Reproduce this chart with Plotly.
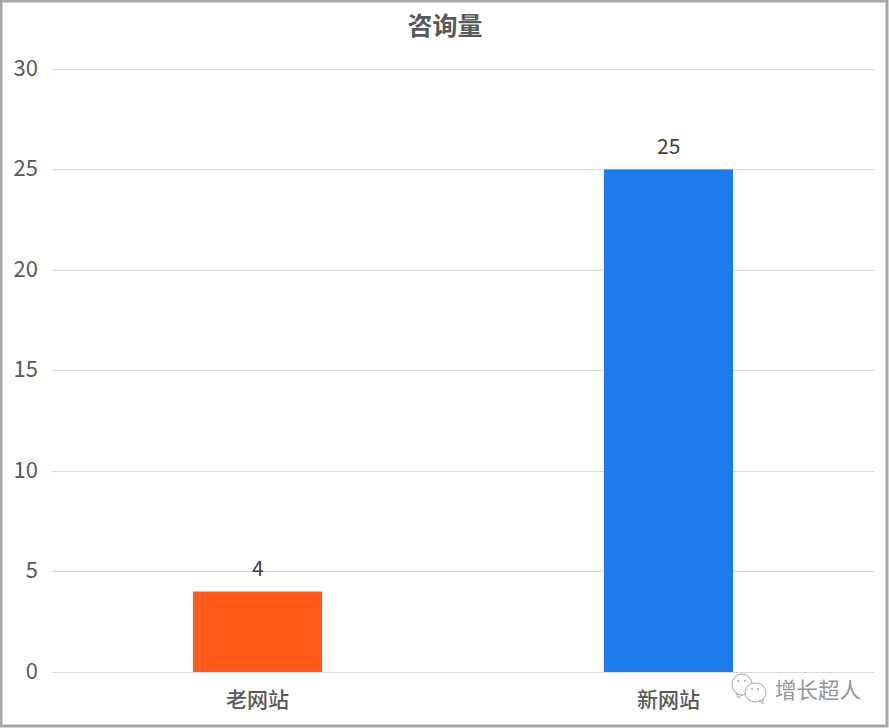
import plotly.graph_objects as go

categories = ['老网站', '新网站']
values = [4, 25]
colors = ['#FF5B1B', '#1C7CEB']
yticks = [0, 5, 10, 15, 20, 25, 30]

W, H = 889, 728
L, R, T, B = 52, 15, 59, 56
font = 'Noto Sans CJK SC'

# pixel position in the picture -> paper coordinates
def px(x):
    return (x - L) / (W - L - R)

def py(y):
    return 1 - (y - T) / (H - T - B)

fig = go.Figure()
fig.add_trace(go.Bar(x=categories, y=values, marker_color=colors, marker_line_width=0,
                     width=0.314, showlegend=False))

fig.update_layout(
    width=W, height=H, showlegend=False,
    margin=dict(l=L, r=R, t=T, b=B),
    paper_bgcolor='white', plot_bgcolor='white',
    font=dict(family=font, color='#595959', size=21),
    title=dict(text='<b>咨询量</b>', x=445 / W, xanchor='center', y=1 - 26 / H, yanchor='middle',
               font=dict(size=25, color='#595959')),
)
# range runs a little past 30, otherwise plotly drops the top gridline
fig.update_yaxes(range=[0, 30.5], tickvals=yticks, gridcolor='#D9D9D9', gridwidth=1,
                 zeroline=False, showline=False, ticks='', ticklabelstandoff=13,
                 ticklabelshift=-1, tickfont=dict(size=22))
fig.update_xaxes(showline=True, linecolor='#D9D9D9', linewidth=1, ticks='',
                 ticklabelstandoff=9, tickfont=dict(size=21, weight=500))

# value labels sit well above the bars
for c, v in zip(categories, values):
    fig.add_annotation(x=c, y=v, text=str(v), showarrow=False, yshift=25,
                       font=dict(size=21, color='#404040'))

# outer frame
fig.add_shape(type='rect', xref='paper', yref='paper', x0=px(1), x1=px(887), y0=py(726), y1=py(1),
              line=dict(color='#A6A6A6', width=3), layer='above')

# watermark: wechat bubbles and name
wm_line = dict(color='#a8a8a8', width=1)
for x0, y0, x1, y1 in [(732, 674, 752, 695), (745, 683, 766, 702)]:
    fig.add_shape(type='circle', xref='paper', yref='paper', x0=px(x0), x1=px(x1), y0=py(y1), y1=py(y0),
                  line=wm_line, fillcolor='white', layer='above')
for pts in [[(736, 692), (738, 698), (742, 695)], [(759, 700), (763, 704), (763, 698)]]:
    path = 'M ' + ' L '.join(f'{px(x):.5f} {py(y):.5f}' for x, y in pts)
    fig.add_shape(type='path', xref='paper', yref='paper', path=path, line=wm_line, layer='above')
for x, y in [(738, 681), (745, 681), (752, 689), (758, 689)]:
    fig.add_shape(type='circle', xref='paper', yref='paper', x0=px(x - 1), x1=px(x + 1), y0=py(y + 1), y1=py(y - 1),
                  line_width=0, fillcolor='#a8a8a8', layer='above')
fig.add_annotation(text='增长超人', xref='paper', yref='paper', x=px(817.5), y=py(688),
                   xanchor='center', yanchor='middle', showarrow=False,
                   font=dict(size=21.5, color='#959595'))

# the page's default body margin would push the picture 8px off
fig.write_html("out.html", config={'displayModeBar': False},
               post_script="document.body.style.margin='0';")
